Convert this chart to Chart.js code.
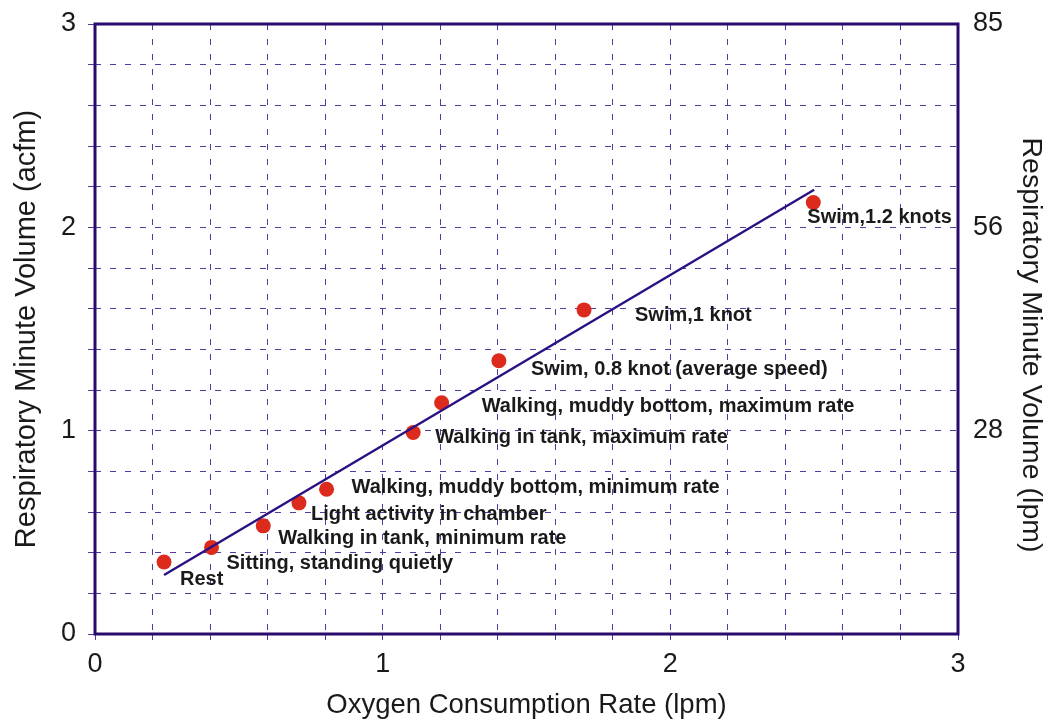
<!DOCTYPE html>
<html>
<head>
<meta charset="utf-8">
<script src="https://cdn.jsdelivr.net/npm/chart.js@4.4.1/dist/chart.umd.min.js"></script>
<style>
  html, body { margin: 0; padding: 0; background: #ffffff; }
  #wrap { width: 1049px; height: 725px; position: relative; }
</style>
</head>
<body>
<div id="wrap"><canvas id="c"></canvas></div>
<script>
// ---- data ----
const activities = [
  'Rest',
  'Sitting, standing quietly',
  'Walking in tank, minimum rate',
  'Light activity in chamber',
  'Walking, muddy bottom, minimum rate',
  'Walking in tank, maximum rate',
  'Walking, muddy bottom, maximum rate',
  'Swim, 0.8 knot (average speed)',
  'Swim,1 knot',
  'Swim,1.2 knots'
];
const oxygenLpm = [0.24, 0.405, 0.585, 0.709, 0.805, 1.106, 1.205, 1.404, 1.700, 2.497];
const rmvAcfm   = [0.354, 0.426, 0.532, 0.645, 0.712, 0.991, 1.137, 1.344, 1.594, 2.122];
const fitX = [0.24, 2.50];
const fitY = [0.29, 2.185];
const xTickLabels = ['0', '1', '2', '3'];
const yTickLabels = ['0', '1', '2', '3'];
const rightTickValues = [1, 2, 3];
const rightTickLabels = ['28', '56', '85'];
const xTitle = 'Oxygen Consumption Rate (lpm)';
const yTitle = 'Respiratory Minute Volume (acfm)';
const y2Title = 'Respiratory Minute Volume (lpm)';

// ---- styles ----
const FONT = '"Liberation Sans", Arial, Helvetica, sans-serif';
const GRID = 'rgb(82, 58, 158)';
const FRAME = '#2a0a6e';
const TXT = '#1a1a1a';
// label offsets (px) relative to each point: [dx, dy]
const labelOffsets = [[16,17],[15,16],[15,13],[12,12],[25,-2],[22,5],[40,4],[32,9],[51,6],[-6,15]];

const pts = oxygenLpm.map((x, i) => ({x: x, y: rmvAcfm[i]}));
const fit = fitX.map((x, i) => ({x: x, y: fitY[i]}));

const isInt = v => Math.abs(v - Math.round(v)) < 1e-6;

const labelPlugin = {
  id: 'pointLabels',
  afterDatasetsDraw(chart) {
    const ctx = chart.ctx;
    const meta = chart.getDatasetMeta(1);
    ctx.save();
    ctx.font = 'bold 20px ' + FONT;
    ctx.fillStyle = TXT;
    ctx.textAlign = 'left';
    ctx.textBaseline = 'middle';
    meta.data.forEach((el, i) => {
      const off = labelOffsets[i];
      ctx.fillText(activities[i], el.x + off[0], el.y + off[1]);
    });
    ctx.restore();
  },
  afterDraw(chart) {
    const a = chart.chartArea;
    const ctx = chart.ctx;
    ctx.save();
    ctx.strokeStyle = FRAME;
    ctx.lineWidth = 3;
    ctx.strokeRect(a.left, a.top, a.right - a.left, a.bottom - a.top);
    // right-hand axis title (slightly below centre, as in the original)
    const s = chart.scales.y2;
    ctx.translate(s.right - 18, (a.top + a.bottom) / 2 + 16);
    ctx.rotate(Math.PI / 2);
    ctx.font = '28.5px ' + FONT;
    ctx.fillStyle = TXT;
    ctx.textAlign = 'center';
    ctx.textBaseline = 'middle';
    ctx.fillText(y2Title, 0, 0);
    ctx.restore();
  }
};

new Chart(document.getElementById('c'), {
  type: 'scatter',
  data: {
    datasets: [
      {
        type: 'line',
        data: fit,
        borderColor: '#2c1183',
        borderWidth: 2.5,
        pointRadius: 0,
        fill: false,
        tension: 0
      },
      {
        data: pts,
        backgroundColor: '#dc2a1c',
        borderWidth: 0,
        pointRadius: 7.5,
        pointHoverRadius: 7.5
      }
    ]
  },
  options: {
    responsive: true,
    maintainAspectRatio: false,
    animation: false,
    events: [],
    layout: { padding: { top: 24, left: 0, right: 0, bottom: 0 } },
    plugins: { legend: { display: false }, tooltip: { enabled: false } },
    scales: {
      x: {
        type: 'linear', min: 0, max: 3,
        afterFit(s) { s.height = 91; s.paddingLeft = 0; s.paddingRight = 0; },
        ticks: {
          stepSize: 0.2, autoSkip: false, maxRotation: 0,
          color: TXT, padding: 8,
          font: { family: FONT, size: 27 },
          callback: v => isInt(v) ? xTickLabels[Math.round(v)] : ''
        },
        grid: { color: GRID, lineWidth: 1, tickLength: 6, tickColor: GRID },
        border: { display: false, dash: [6, 9] },
        title: {
          display: true, text: xTitle, color: TXT,
          font: { family: FONT, size: 27.5, lineHeight: 1.2 },
          padding: { top: 0, bottom: 3 }
        }
      },
      y: {
        type: 'linear', position: 'left', min: 0, max: 3,
        afterFit(s) { s.width = 95; s.paddingTop = 0; s.paddingBottom = 0; },
        ticks: {
          stepSize: 0.2, autoSkip: false,
          color: TXT, padding: 12,
          font: { family: FONT, size: 27 },
          callback: v => isInt(v) ? yTickLabels[Math.round(v)] : ''
        },
        grid: { color: GRID, lineWidth: 1, tickLength: 7, tickColor: GRID },
        border: { display: false, dash: [6, 9] },
        title: {
          display: true, text: yTitle, color: TXT,
          font: { family: FONT, size: 29, lineHeight: 1.2 },
          padding: { top: 10, bottom: 0 }
        }
      },
      y2: {
        type: 'linear', position: 'right', min: 0, max: 3,
        afterFit(s) { s.width = 91; s.paddingTop = 0; s.paddingBottom = 0; },
        afterBuildTicks(s) { s.ticks = rightTickValues.map(v => ({ value: v })); },
        ticks: {
          autoSkip: false, color: TXT, padding: 15,
          font: { family: FONT, size: 27 },
          callback: (v, i) => rightTickLabels[i]
        },
        grid: { drawOnChartArea: false, drawTicks: false },
        border: { display: false },
        title: { display: false }
      }
    }
  },
  plugins: [labelPlugin]
});
</script>
</body>
</html>
